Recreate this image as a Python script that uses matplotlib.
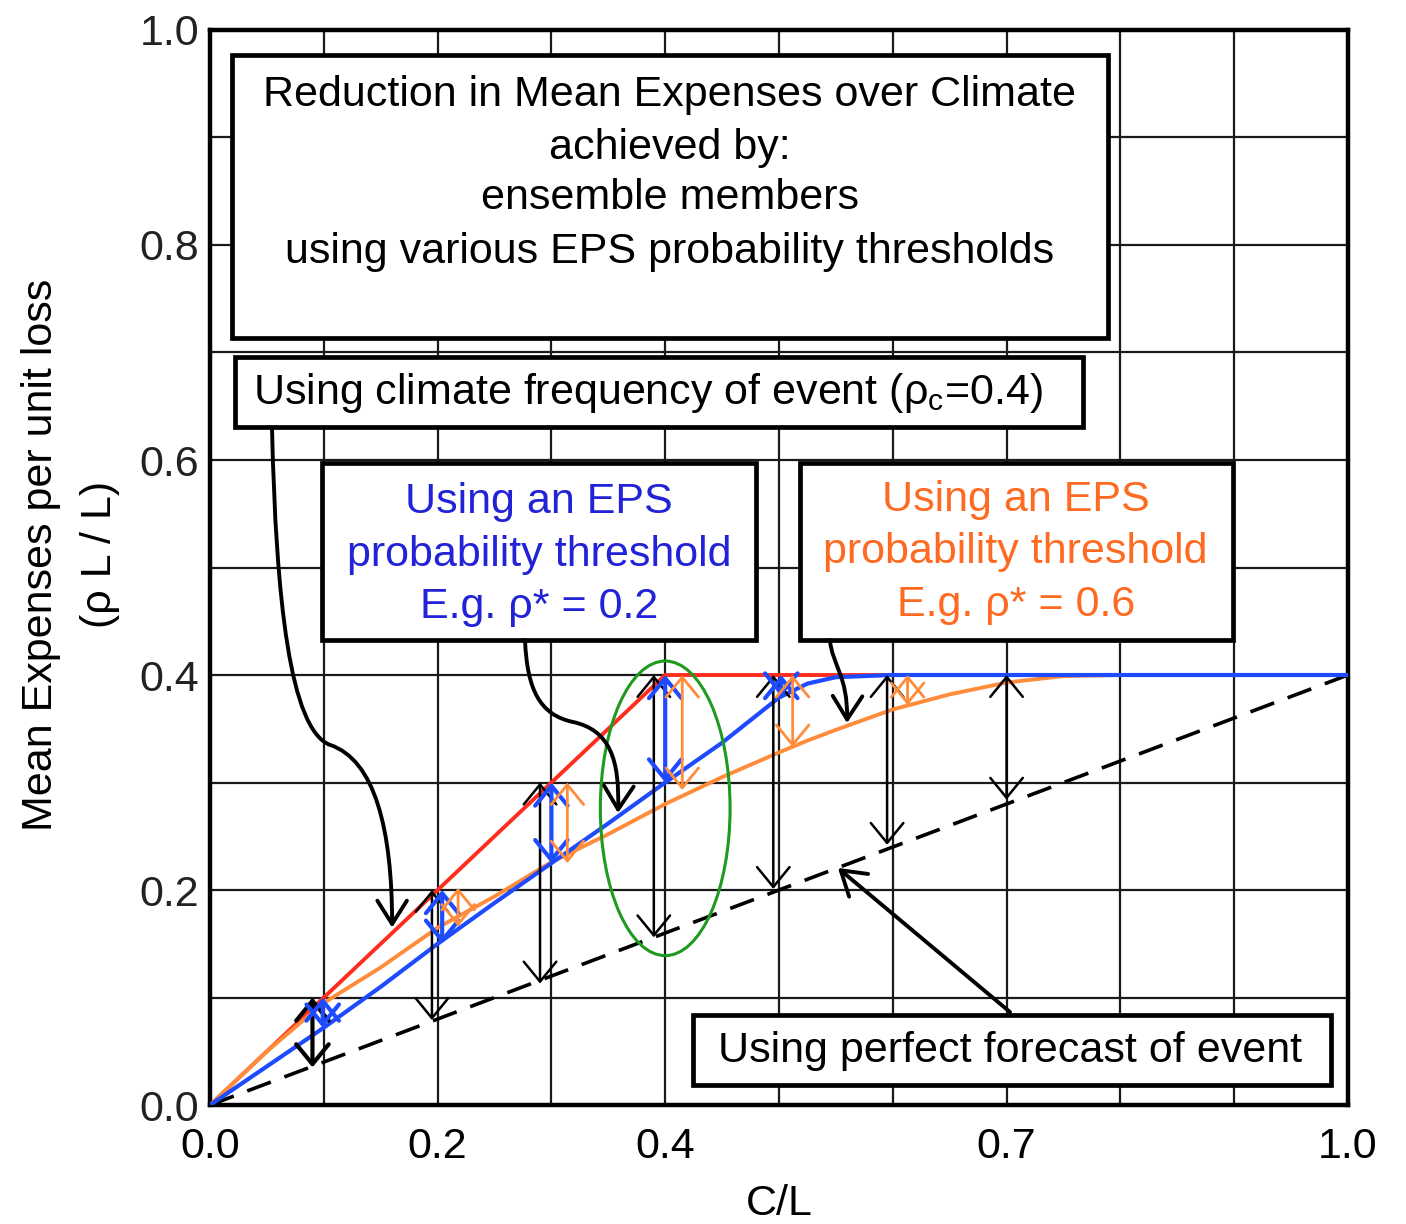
import numpy as np
import matplotlib
matplotlib.use("Agg")
import matplotlib.pyplot as plt
from matplotlib.patches import Rectangle, Ellipse, FancyArrowPatch
from matplotlib.path import Path

plt.rcParams['font.family'] = ['Liberation Sans', 'DejaVu Sans']

# curves
cl = [0, 0.05, 0.1, 0.15, 0.2, 0.25, 0.3, 0.35, 0.4, 0.45, 0.5, 0.525, 0.55, 0.6, 0.65, 0.7, 0.75, 0.8, 1.0]
blue_eps = [0, 0.036, 0.072, 0.11, 0.15, 0.188, 0.225, 0.262, 0.30, 0.337, 0.379, 0.392, 0.398, 0.40, 0.40, 0.40, 0.40, 0.40, 0.40]
orange_eps = [0, 0.05, 0.095, 0.128, 0.165, 0.194, 0.226, 0.252, 0.28, 0.305, 0.328, 0.339, 0.349, 0.368, 0.382, 0.393, 0.399, 0.40, 0.40]
climate_x = [0, 0.4, 1.0]
climate_y = [0, 0.4, 0.4]
perfect_x = [0, 1.0]
perfect_y = [0, 0.4]

# double arrows (x, top, bottom)
black_x = [0.09, 0.195, 0.29, 0.39, 0.495, 0.595, 0.70]
black_top = [0.10, 0.20, 0.30, 0.40, 0.40, 0.40, 0.40]
black_bot = [0.035, 0.079, 0.113, 0.156, 0.201, 0.242, 0.284]
blue_x = [0.099, 0.204, 0.30, 0.40, 0.502]
blue_top = [0.10, 0.20, 0.30, 0.40, 0.40]
blue_bot = [0.072, 0.15, 0.225, 0.30, 0.38]
orange_x = [0.218, 0.314, 0.415, 0.512, 0.613]
orange_top = [0.202, 0.30, 0.40, 0.40, 0.40]
orange_bot = [0.166, 0.225, 0.293, 0.333, 0.372]

xticks = [0.0, 0.2, 0.4, 0.7, 1.0]
yticks = [0.0, 0.2, 0.4, 0.6, 0.8, 1.0]

RED = '#ff2d1e'
BLUE = '#1f4bff'
ORANGE = '#ff8c3a'
BLUE_TXT = '#2222d6'
ORANGE_TXT = '#ff6a22'
FS = 31

fig = plt.figure(figsize=(14.06, 12.24), dpi=100)
ax = fig.add_axes([0.1494, 0.0972, 0.8093, 0.8783])
ax.set_xlim(0, 1)
ax.set_ylim(0, 1)

ax.set_xticks(xticks)
ax.set_xticklabels([f"{v:.1f}" for v in xticks], fontsize=FS)
ax.set_yticks(yticks)
ax.set_yticklabels([f"{v:.1f}" for v in yticks], fontsize=FS, color='#222222')
ax.set_xticks(np.arange(0.1, 1.0, 0.1), minor=True)
ax.set_yticks(np.arange(0.1, 1.0, 0.1), minor=True)
ax.tick_params(which='both', length=0)
ax.tick_params(axis='x', pad=16)
ax.tick_params(axis='y', pad=8)
ax.grid(which='both', color='#1a1a1a', lw=1.6)
ax.set_axisbelow(True)
for s in ax.spines.values():
    s.set_linewidth(3.2)

ax.set_xlabel('C/L', fontsize=FS, labelpad=12)
fig.text(0.029, 0.547, 'Mean Expenses per unit loss', rotation=90, fontsize=FS,
         ha='center', va='center')
fig.text(0.071, 0.547, '(ρ L / L)', rotation=90, fontsize=FS, ha='center', va='center')

# lines
ax.plot(perfect_x, perfect_y, color='black', lw=2.6, ls=(0, (7, 4)), zorder=4)
ax.plot(climate_x, climate_y, color=RED, lw=2.8, zorder=5)
ax.plot(cl, orange_eps, color=ORANGE, lw=2.8, zorder=5)
ax.plot(cl, blue_eps, color=BLUE, lw=3.0, zorder=6)


def dbl(x, y0, y1, color, lw, hw=0.45, hl=0.55):
    ax.annotate('', xy=(x, y1), xytext=(x, y0),
                arrowprops=dict(arrowstyle=f'<->,head_length={hl},head_width={hw}',
                                color=color, lw=lw, shrinkA=0, shrinkB=0,
                                mutation_scale=26),
                zorder=7)


for i, (x, t, b) in enumerate(zip(black_x, black_top, black_bot)):
    dbl(x, t, b, 'black', 3.0 if i == 0 else 1.8)
for x, t, b in zip(blue_x, blue_top, blue_bot):
    dbl(x, t, b, BLUE, 3.0)
for x, t, b in zip(orange_x, orange_top, orange_bot):
    dbl(x, t, b, ORANGE, 2.0)

ax.add_patch(Ellipse((0.40, 0.276), 0.114, 0.274, fill=False, ec='#1e9a1e', lw=2.2, zorder=8))


# text boxes (axes fraction)
def box(x0, x1, y0, y1):
    ax.add_patch(Rectangle((x0, y0), x1 - x0, y1 - y0, transform=ax.transAxes,
                           fc='white', ec='black', lw=3.4, zorder=3))


box(0.0193, 0.789, 0.7135, 0.977)
for y, s in zip([0.9395, 0.890, 0.8437, 0.7935],
                ['Reduction in Mean Expenses over Climate', 'achieved by:',
                 'ensemble members', 'using various EPS probability thresholds']):
    ax.text(0.404, y, s, transform=ax.transAxes, ha='center', va='center', fontsize=FS, zorder=4)

box(0.022, 0.767, 0.631, 0.696)
ax.text(0.0378, 0.662, r'Using climate frequency of event (ρ$_\mathregular{c}$=0.4)',
        transform=ax.transAxes, ha='left', va='center', fontsize=FS, zorder=4)

box(0.0984, 0.4798, 0.4326, 0.597)
for y, s in zip([0.561, 0.512, 0.463],
                ['Using an EPS', 'probability threshold', 'E.g. ρ* = 0.2']):
    ax.text(0.289, y, s, transform=ax.transAxes, ha='center', va='center',
            fontsize=FS, color=BLUE_TXT, zorder=4)

box(0.5185, 0.899, 0.4326, 0.597)
for y, s in zip([0.563, 0.514, 0.465],
                ['Using an EPS', 'probability threshold', 'E.g. ρ* = 0.6']):
    ax.text(0.708, y, s, transform=ax.transAxes, ha='center', va='center',
            fontsize=FS, color=ORANGE_TXT, zorder=4)

box(0.4244, 0.985, 0.0186, 0.0837)
ax.text(0.703, 0.0505, 'Using perfect forecast of event', transform=ax.transAxes,
        ha='center', va='center', fontsize=FS, zorder=4)

# curved pointers
C4 = Path.CURVE4
pointers = [
    ([(0.0545, 0.628), (0.058, 0.470), (0.0703, 0.349), (0.1054, 0.335),
      (0.145, 0.321), (0.160, 0.256), (0.160, 0.165)],
     [Path.MOVETO, C4, C4, C4, C4, C4, C4]),
    ([(0.2768, 0.4326), (0.2786, 0.386), (0.290, 0.3628), (0.319, 0.3563),
      (0.3515, 0.3488), (0.360, 0.321), (0.3585, 0.2716)],
     [Path.MOVETO, C4, C4, C4, C4, C4, C4]),
    ([(0.5448, 0.4326), (0.5466, 0.4093), (0.5606, 0.40), (0.5598, 0.3553)],
     [Path.MOVETO, C4, C4, C4]),
    ([(0.703, 0.0865), (0.5518, 0.2205)], [Path.MOVETO, Path.LINETO]),
]
for verts, codes in pointers:
    ax.add_patch(FancyArrowPatch(path=Path(verts, codes),
                                 arrowstyle='->,head_length=0.6,head_width=0.38',
                                 mutation_scale=28, color='black', lw=2.8, zorder=9))

fig.savefig('out.png', dpi=100)
